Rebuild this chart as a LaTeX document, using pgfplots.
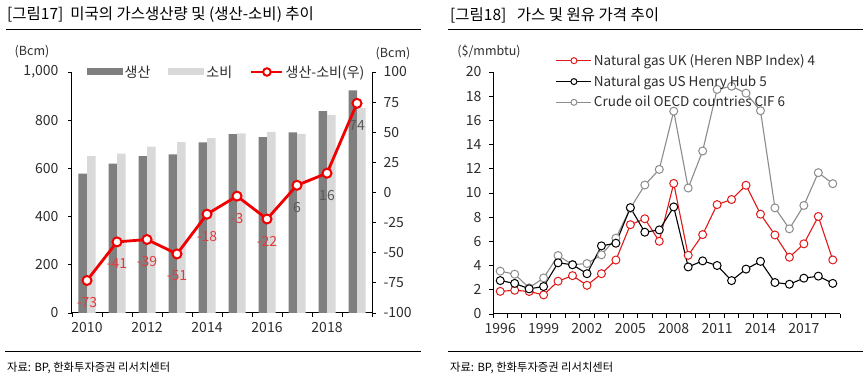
\documentclass[border=0pt]{standalone}
\usepackage{fontspec}
\setmainfont{Noto Sans CJK KR}
\usepackage{pgfplots}
\pgfplotsset{compat=1.18}
\definecolor{barDark}{RGB}{127,127,127}
\definecolor{barLight}{RGB}{217,217,217}
\definecolor{lineRed}{RGB}{240,0,0}
\definecolor{labRed}{RGB}{225,60,60}
\definecolor{labGray}{RGB}{90,90,90}
\definecolor{gasRed}{RGB}{225,25,25}
\definecolor{oilGray}{RGB}{140,140,140}
\definecolor{txt}{RGB}{45,45,45}
\pgfplotsset{
  base/.style={scale only axis, tick align=outside, clip=false,
    axis line style={-, black, line width=1pt},
    tick style={black, line width=0.9pt},
    major tick length=4pt, minor tick length=4pt,
    ticklabel style={font=\fontsize{14}{16}\selectfont, text=txt},
    /pgf/number format/assume math mode=true},
}
\begin{document}
\begin{tikzpicture}
\fill[white] (0pt,0pt) rectangle (868pt,-379pt);
\useasboundingbox (0pt,0pt) rectangle (868pt,-379pt);
% titles and rules
\node[anchor=west, inner sep=0pt, text=black, font=\fontsize{15.5}{18}\selectfont] at (7pt,-15pt) {[그림17]\ \ 미국의 가스생산량 및 (생산-소비) 추이};
\node[anchor=west, inner sep=0pt, text=black, font=\fontsize{15.5}{18}\selectfont] at (450pt,-15pt) {[그림18]\ \ \ 가스 및 원유 가격 추이};
\draw[line width=1pt] (6pt,-30pt) -- (421pt,-30pt);
\draw[line width=1pt] (448pt,-30pt) -- (863pt,-30pt);
\draw[line width=1pt] (5pt,-352pt) -- (421pt,-352pt);
\draw[line width=1pt] (448pt,-352pt) -- (863pt,-352pt);
\node[anchor=west, inner sep=0pt, text=black, font=\fontsize{11.3}{13}\selectfont] at (7pt,-368pt) {자료: BP, 한화투자증권 리서치센터};
\node[anchor=west, inner sep=0pt, text=black, font=\fontsize{11.3}{13}\selectfont] at (450pt,-368pt) {자료: BP, 한화투자증권 리서치센터};
\node[inner sep=0pt, text=txt, font=\fontsize{12.5}{14}\selectfont] at (32pt,-52pt) {(Bcm)};
\node[inner sep=0pt, text=txt, font=\fontsize{12.5}{14}\selectfont] at (393pt,-54pt) {(Bcm)};
\node[inner sep=0pt, text=txt, font=\fontsize{12.5}{14}\selectfont] at (489pt,-52pt) {(\$/mmbtu)};

% left chart: bars
\begin{axis}[base, at={(72pt,-313pt)}, anchor=south west, width=300pt, height=241pt,
  xmin=-0.5, xmax=9.5, ymin=0, ymax=1000,
  axis x line*=bottom, axis y line*=left,
  xtick={0,2,4,6,8}, xticklabels={2010,2012,2014,2016,2018},
  minor xtick={-0.5,0.5,...,9.5}, major x tick style={draw=none},
  ytick={0,200,...,1000}, yticklabels={0,200,400,600,800,{1,000}},
  yticklabel style={xshift=-6pt}, xticklabel style={yshift=-2pt},
  legend columns=3,
  legend style={at={(0.515,1.0)}, anchor=center, draw=none, fill=none,
    font=\fontsize{14}{16}\selectfont, text=txt,
    /tikz/every even column/.append style={column sep=16pt}},
]
\addplot[ybar, bar width=8.5pt, bar shift=-4.25pt, fill=barDark, draw=none,
  legend image code/.code={\fill[barDark] (0pt,-3.5pt) rectangle (36pt,3.5pt);}]
  coordinates {(0,578) (1,620) (2,651) (3,658) (4,708) (5,742) (6,730) (7,749) (8,838) (9,924)};
\addlegendentry{생산}
\addplot[ybar, bar width=8.5pt, bar shift=4.25pt, fill=barLight, draw=none,
  legend image code/.code={\fill[barLight] (0pt,-3.5pt) rectangle (36pt,3.5pt);}]
  coordinates {(0,651) (1,661) (2,690) (3,709) (4,726) (5,745) (6,752) (7,743) (8,822) (9,850)};
\addlegendentry{소비}
\addlegendimage{legend image code/.code={\draw[lineRed, line width=2.5pt] (0pt,0pt) -- (31pt,0pt); \draw[lineRed, line width=2pt, fill=white] (15.5pt,0pt) circle (3.8pt);}}
\addlegendentry{생산-소비(우)}
\end{axis}

% left chart: line on right axis
\begin{axis}[base, at={(72pt,-313pt)}, anchor=south west, width=300pt, height=241pt,
  xmin=-0.5, xmax=9.5, ymin=-100, ymax=100,
  axis y line*=right, axis x line=none,
  ytick={-100,-75,...,100}, yticklabel style={xshift=4pt},
]
\addplot[lineRed, line width=2.8pt, mark=*, mark size=4.5pt, mark options={fill=white, line width=2pt, solid}]
  coordinates {(0,-73) (1,-41) (2,-39) (3,-51) (4,-18) (5,-3) (6,-22) (7,6) (8,16) (9,74)};
\addplot[draw=none, mark=none, forget plot, nodes near coords, point meta=explicit symbolic,
  nodes near coords style={anchor=center, yshift=-22pt, text=labRed, font=\fontsize{14}{16}\selectfont}]
  coordinates {(0,-73)[-73] (1,-41)[-41] (2,-39)[-39] (3,-51)[-51] (4,-18)[-18] (5,-3)[-3] (6,-22)[-22]};
\addplot[draw=none, mark=none, forget plot, nodes near coords, point meta=explicit symbolic,
  nodes near coords style={anchor=center, yshift=-22pt, text=labGray, font=\fontsize{14}{16}\selectfont}]
  coordinates {(7,6)[6] (8,16)[16] (9,74)[74]};
\end{axis}

% right chart
\begin{axis}[base, at={(493pt,-314pt)}, anchor=south west, width=347pt, height=242pt,
  xmin=1995.5, xmax=2019.5, ymin=0, ymax=20,
  axis x line*=bottom, axis y line*=left,
  xtick={1996,1999,...,2017}, xticklabels={1996,1999,2002,2005,2008,2011,2014,2017},
  minor xtick={1995.5,1996.5,...,2019.5}, major x tick style={draw=none},
  ytick={0,2,...,20},
  yticklabel style={xshift=-4pt}, xticklabel style={yshift=-2pt},
  legend cell align=left,
  legend style={at={(0.172,1.09)}, anchor=north west, draw=none, fill=none,
    font=\fontsize{13.5}{15}\selectfont, text=txt, row sep=4.5pt},
]
\addplot[oilGray, line width=1.1pt, mark=*, mark size=4pt, mark options={fill=white, line width=1pt}, forget plot]
  coordinates {(1996,3.54) (1997,3.29) (1998,2.16) (1999,2.98) (2000,4.83) (2001,4.08) (2002,4.17) (2003,4.89) (2004,6.27) (2005,8.74) (2006,10.66) (2007,11.95) (2008,16.76) (2009,10.41) (2010,13.47) (2011,18.56) (2012,18.82) (2013,18.25) (2014,16.80) (2015,8.77) (2016,7.04) (2017,8.97) (2018,11.68) (2019,10.77)};
\addplot[gasRed, line width=1.1pt, mark=*, mark size=4pt, mark options={fill=white, line width=1pt},
  legend image code/.code={\draw[gasRed, line width=1.1pt] (0pt,0pt) -- (35pt,0pt); \draw[gasRed, line width=1pt, fill=white] (17.5pt,0pt) circle (3pt);}]
  coordinates {(1996,1.87) (1997,1.96) (1998,1.86) (1999,1.58) (2000,2.71) (2001,3.17) (2002,2.37) (2003,3.33) (2004,4.46) (2005,7.38) (2006,7.87) (2007,6.01) (2008,10.79) (2009,4.85) (2010,6.56) (2011,9.04) (2012,9.46) (2013,10.64) (2014,8.25) (2015,6.53) (2016,4.69) (2017,5.80) (2018,8.06) (2019,4.47)};
\addlegendentry{Natural gas UK (Heren NBP Index) 4}
\addplot[black, line width=1.1pt, mark=*, mark size=4pt, mark options={fill=white, line width=1pt},
  legend image code/.code={\draw[black, line width=1.1pt] (0pt,0pt) -- (35pt,0pt); \draw[black, line width=1pt, fill=white] (17.5pt,0pt) circle (3pt);}]
  coordinates {(1996,2.76) (1997,2.53) (1998,2.08) (1999,2.27) (2000,4.23) (2001,4.07) (2002,3.33) (2003,5.63) (2004,5.85) (2005,8.79) (2006,6.76) (2007,6.95) (2008,8.85) (2009,3.89) (2010,4.39) (2011,4.01) (2012,2.76) (2013,3.71) (2014,4.35) (2015,2.60) (2016,2.46) (2017,2.96) (2018,3.13) (2019,2.53)};
\addlegendentry{Natural gas US Henry Hub 5}
\addlegendimage{legend image code/.code={\draw[oilGray, line width=1.1pt] (0pt,0pt) -- (35pt,0pt); \draw[oilGray, line width=1pt, fill=white] (17.5pt,0pt) circle (3pt);}}
\addlegendentry{Crude oil OECD countries CIF 6}
\end{axis}
\end{tikzpicture}
\end{document}
